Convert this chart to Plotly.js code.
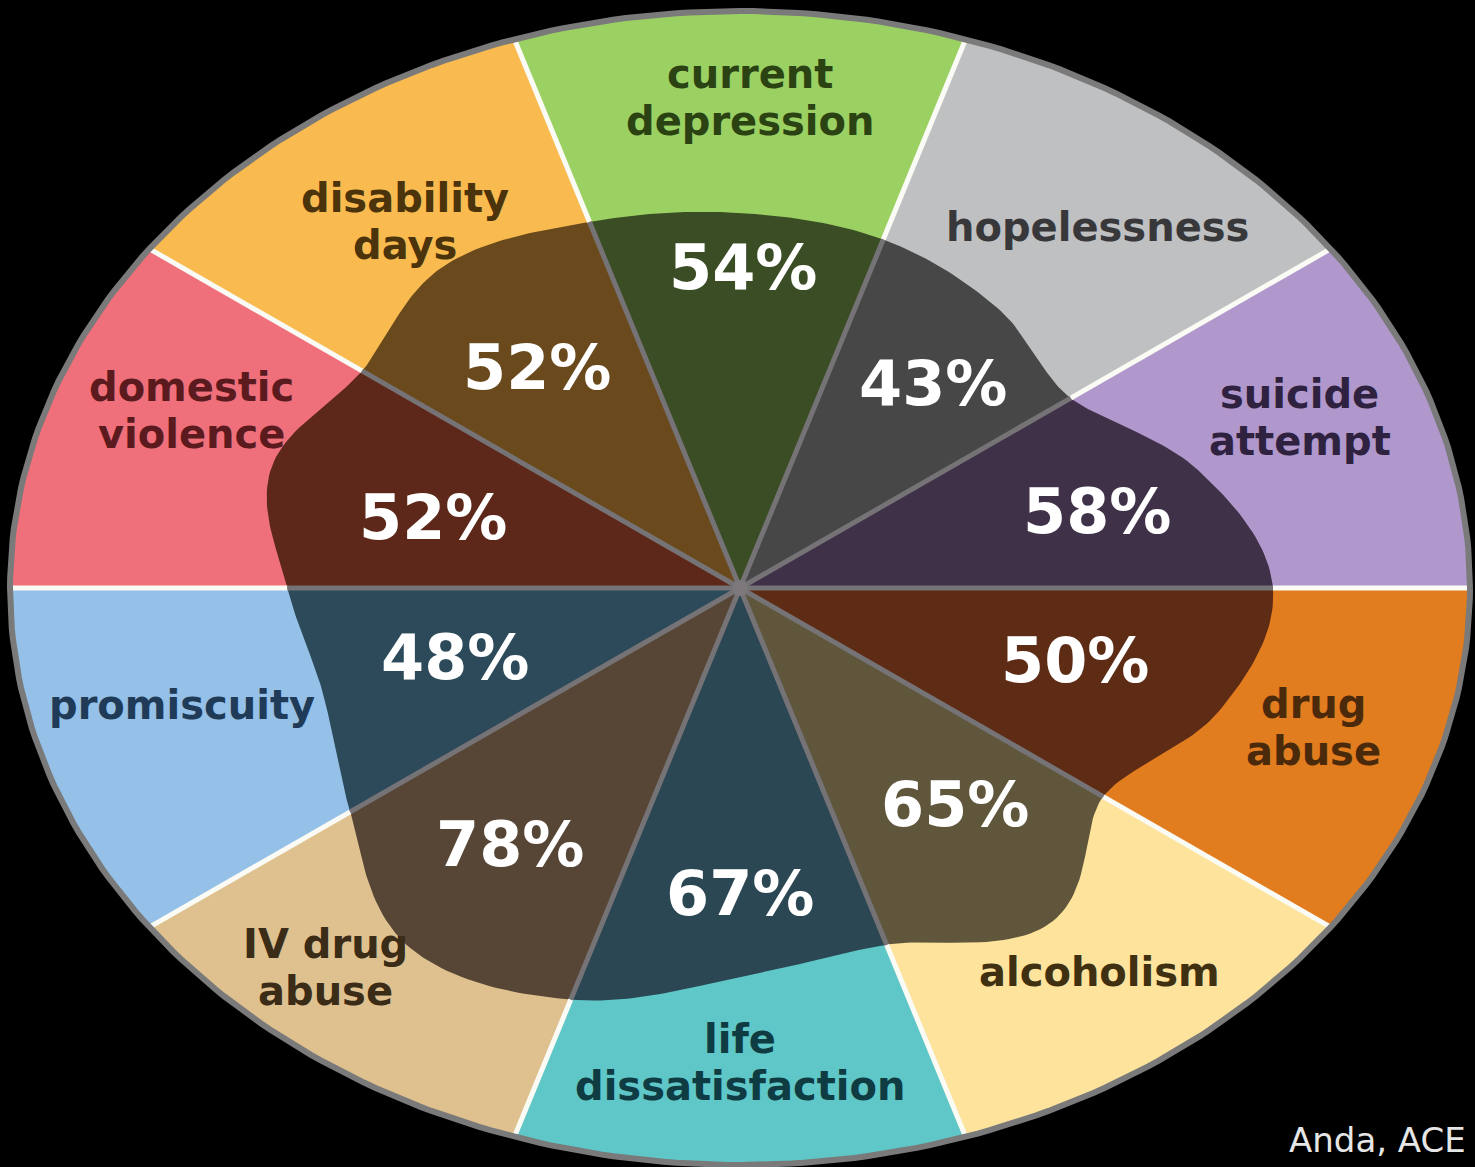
<!DOCTYPE html>
<html><head><meta charset="utf-8">
<script src="https://cdn.plot.ly/plotly-3.0.1.min.js"></script>
<style>html,body{margin:0;padding:0;background:#000;}#chart{width:1475px;height:1167px;}</style>
</head><body><div id="chart"></div>
<script>
// ---- data (slices listed counter-clockwise, starting at the right horizontal) ----
const categories = ['suicide attempt','hopelessness','current depression','disability days','domestic violence','promiscuity','IV drug abuse','life dissatisfaction','alcoholism','drug abuse'];
const displayLines = [['suicide','attempt'],['hopelessness'],['current','depression'],['disability','days'],['domestic','violence'],['promiscuity'],['IV drug','abuse'],['life','dissatisfaction'],['alcoholism'],['drug','abuse']];
const percents = [58,43,54,52,52,48,78,67,65,50];
const sliceShare = [1,1,1,1,1,1,1,1,1,1];
// reach of the dark overlay (fraction of the radius), at each slice's start edge and at its middle
const blobReachEdge = [0.73,0.56,0.635,0.667,0.64,0.62,0.66,0.75,0.65,0.615];
const blobReachMid  = [0.66,0.60,0.65,0.69,0.675,0.60,0.77,0.675,0.72,0.69];
const sourceText = 'Anda, ACE';

// ---- styles ----
const outerColors = ['#b198cc','#bfc0c2','#9bd163','#f9bb4f','#ef707b','#95c0e7','#dfc18f','#5fc7c7','#fde39c','#e17c1f'];
const innerColors = ['#3f3148','#474747','#3b4d24','#6a4a1c','#5d2719','#2c4a59','#574535','#2a4753','#5f563b','#5e2b15'];
const textColors  = ['#2f2240','#38383a','#2b4313','#4b330b','#5b1a1e','#1f3b57','#3b2c18','#0f3c42','#3e3010','#4b2a0c'];
// positions (normalized ellipse coordinates)
const labelPos = [[0.767,0.296],[0.490,0.626],[0.014,0.850],[-0.459,0.636],[-0.751,0.307],[-0.764,-0.203],[-0.568,-0.657],[0,-0.823],[0.493,-0.666],[0.785,-0.241]];
const pctPos   = [[0.489,0.132],[0.264,0.355],[0.004,0.555],[-0.278,0.383],[-0.421,0.123],[-0.390,-0.120],[-0.315,-0.445],[0,-0.529],[0.295,-0.376],[0.459,-0.125]];
const sourcePos = [1468/1475, 1-1140/1167];

// ---- geometry ----
const total = sliceShare.reduce((a,b)=>a+b,0);
const starts = []; let acc = 0;
sliceShare.forEach(s=>{ starts.push(acc/total*360); acc += s; });
const ctrl = [];
for (let i=0;i<categories.length;i++){ ctrl.push(blobReachEdge[i]); ctrl.push(blobReachMid[i]); }
const nC = ctrl.length, stepDeg = 360/nC;
function blobR(deg){
  deg = ((deg%360)+360)%360;
  const f = deg/stepDeg, i = Math.floor(f), t = f-i;
  const P0=ctrl[(i-1+nC)%nC], P1=ctrl[i%nC], P2=ctrl[(i+1)%nC], P3=ctrl[(i+2)%nC];
  return 0.5*((2*P1)+(-P0+P2)*t+(2*P0-5*P1+4*P2-P3)*t*t+(-P0+3*P1-3*P2+P3)*t*t*t);
}
const rad = d=>d*Math.PI/180;
const traces = [];
function wedge(a0,a1,rf,color){
  const xs=[0], ys=[0];
  for (let k=0;k<=60;k++){ const a=a0+(a1-a0)*k/60; const r=rf(a); xs.push(r*Math.cos(rad(a))); ys.push(r*Math.sin(rad(a))); }
  xs.push(0); ys.push(0);
  return {x:xs,y:ys,type:'scatter',mode:'lines',fill:'toself',fillcolor:color,line:{width:0,color:color},hoverinfo:'skip',showlegend:false};
}
const sliceSpan = i => [starts[i], (i+1<starts.length? starts[i+1] : 360)];
categories.forEach((c,i)=>{ const [a0,a1]=sliceSpan(i); traces.push(wedge(a0,a1,()=>1,outerColors[i])); });
categories.forEach((c,i)=>{ const [a0,a1]=sliceSpan(i); traces.push(wedge(a0,a1,blobR,innerColors[i])); });
const wx=[],wy=[],gx=[],gy=[];
starts.forEach(a=>{
  const c=Math.cos(rad(a)), s=Math.sin(rad(a)), rb=blobR(a);
  wx.push(rb*c,1*c,null); wy.push(rb*s,1*s,null);
  gx.push(0,rb*c,null); gy.push(0,rb*s,null);
});
traces.push({x:wx,y:wy,type:'scatter',mode:'lines',line:{color:'#fbfbf5',width:5},hoverinfo:'skip',showlegend:false});
traces.push({x:gx,y:gy,type:'scatter',mode:'lines',line:{color:'#767376',width:5},hoverinfo:'skip',showlegend:false});
const bx=[],by=[];
for(let k=0;k<=360;k++){ bx.push(Math.cos(rad(k))); by.push(Math.sin(rad(k))); }
traces.push({x:bx,y:by,type:'scatter',mode:'lines',line:{color:'#7a7a7a',width:6},hoverinfo:'skip',showlegend:false});
traces.push({x:[0],y:[0],type:'scatter',mode:'markers',marker:{size:16,color:'#7c787c'},hoverinfo:'skip',showlegend:false});

const annotations = [];
const lineGap = 47;
categories.forEach((c,i)=>{
  const lines = displayLines[i];
  lines.forEach((ln,k)=>{
    const shift = ((lines.length-1)/2 - k)*lineGap;
    annotations.push({x:labelPos[i][0],y:labelPos[i][1],xref:'x',yref:'y',text:ln,showarrow:false,xanchor:'center',yanchor:'middle',yshift:shift,
      font:{family:'DejaVu Sans',size:40,weight:700,color:textColors[i]}});
  });
  annotations.push({x:pctPos[i][0],y:pctPos[i][1],xref:'x',yref:'y',text:percents[i]+'%',showarrow:false,xanchor:'center',yanchor:'middle',
    font:{family:'DejaVu Sans',size:62,weight:700,color:'#ffffff'}});
});
annotations.push({x:sourcePos[0],y:sourcePos[1],xref:'paper',yref:'paper',text:sourceText,showarrow:false,xanchor:'right',yanchor:'middle',
  font:{family:'DejaVu Sans',size:34,color:'#e6e6e6'}});

const layout = {
  width:1475,height:1167,margin:{l:0,r:0,t:0,b:0},
  paper_bgcolor:'#000',plot_bgcolor:'#000',
  xaxis:{range:[-740/730,735/730],visible:false,fixedrange:true,showgrid:false,zeroline:false},
  yaxis:{range:[(588-1167)/577,588/577],visible:false,fixedrange:true,showgrid:false,zeroline:false},
  annotations:annotations,showlegend:false
};
Plotly.newPlot('chart',traces,layout,{displayModeBar:false,staticPlot:true});
</script></body></html>
